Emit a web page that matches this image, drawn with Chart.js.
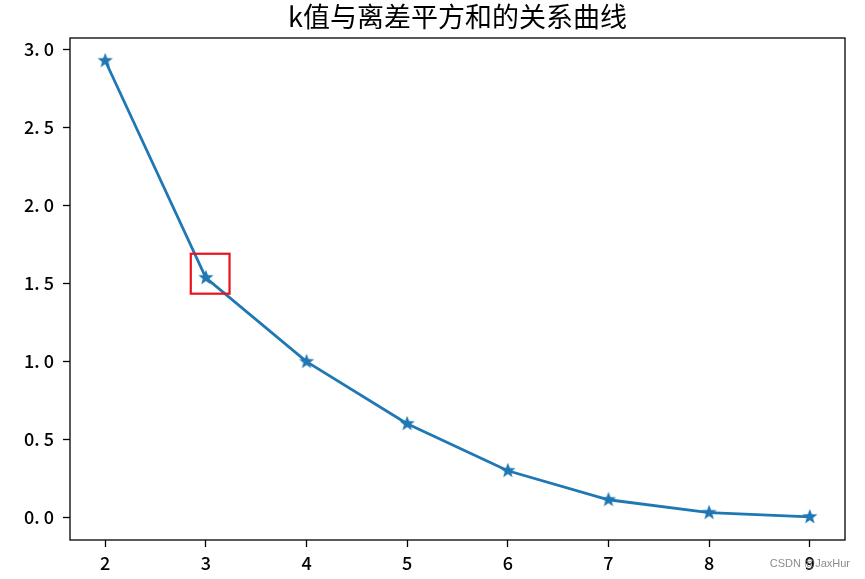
<!DOCTYPE html>
<html>
<head>
<meta charset="utf-8">
<script src="https://cdn.jsdelivr.net/npm/chart.js@4/dist/chart.umd.min.js"></script>
<style>
  body { margin: 0; background: #fff; }
  #wrap { width: 865px; height: 579px; position: relative; }
</style>
</head>
<body>
<div id="wrap"><canvas id="elbow"></canvas></div>
<script>
// data
const kValues = [2, 3, 4, 5, 6, 7, 8, 9];
const sse = [2.926, 1.535, 0.997, 0.599, 0.298, 0.112, 0.029, 0.002];
const xTicks = [2, 3, 4, 5, 6, 7, 8, 9];
const yTicks = [0, 0.5, 1.0, 1.5, 2.0, 2.5, 3.0];
const highlightK = 3;  // the point boxed in red
const chartTitle = 'k值与离差平方和的关系曲线';

const blue = '#1f77b4';
const tickFont = { family: "'Noto Sans CJK SC', 'DejaVu Sans', sans-serif", size: 18, weight: 500 };

// filled five point star, like matplotlib's '*' marker
function makeStar(r) {
    const c = document.createElement('canvas');
    c.width = c.height = r * 2 + 2;
    const g = c.getContext('2d');
    g.fillStyle = blue;
    g.beginPath();
    for (let i = 0; i < 10; i++) {
        const rad = i % 2 === 0 ? r : r * 0.42;
        const a = -Math.PI / 2 + i * Math.PI / 5;
        const px = r + 1 + rad * Math.cos(a);
        const py = r + 1 + rad * Math.sin(a);
        if (i === 0) g.moveTo(px, py); else g.lineTo(px, py);
    }
    g.closePath();
    g.fill();
    return c;
}
const star = makeStar(8);

// frame round the plot area, title centred over it, the red box, watermark
const extras = {
    id: 'extras',
    afterDatasetsDraw(chart) {
        const { ctx, chartArea: a, scales } = chart;
        ctx.save();
        ctx.strokeStyle = '#000';
        ctx.lineWidth = 1.3;
        ctx.strokeRect(a.left, a.top, a.right - a.left, a.bottom - a.top);

        ctx.fillStyle = '#000';
        ctx.font = "27px 'Noto Sans CJK SC', sans-serif";
        ctx.textAlign = 'center';
        ctx.textBaseline = 'middle';
        ctx.fillText(chartTitle, (a.left + a.right) / 2, 17);

        const i = kValues.indexOf(highlightK);
        const x1 = scales.x.getPixelForValue(kValues[i] - 0.15);
        const x2 = scales.x.getPixelForValue(kValues[i] + 0.235);
        const y1 = scales.y.getPixelForValue(sse[i] + 0.154);
        const y2 = scales.y.getPixelForValue(sse[i] - 0.102);
        ctx.strokeStyle = '#e8141c';
        ctx.lineWidth = 2.2;
        ctx.strokeRect(x1, y1, x2 - x1, y2 - y1);

        ctx.fillStyle = 'rgba(120,120,120,0.85)';
        ctx.font = "11px 'Liberation Sans', Arial, sans-serif";
        ctx.textAlign = 'right';
        ctx.fillText('CSDN @JaxHur', 850, 564);
        ctx.restore();
    }
};

new Chart(document.getElementById('elbow'), {
    type: 'line',
    data: {
        labels: kValues,
        datasets: [{
            data: kValues.map((k, i) => ({ x: k, y: sse[i] })),
            borderColor: blue,
            backgroundColor: blue,
            borderWidth: 2.8,
            pointStyle: star,
            tension: 0,
            fill: false
        }]
    },
    options: {
        responsive: true,
        maintainAspectRatio: false,
        animation: false,
        layout: { padding: { top: 38, right: 20, left: 0, bottom: 0 } },
        plugins: {
            legend: { display: false },
            tooltip: { enabled: false },
            title: { display: false }
        },
        scales: {
            x: {
                type: 'linear',
                min: 1.65,
                max: 9.35,
                afterBuildTicks: s => { s.ticks = xTicks.map(v => ({ value: v })); },
                afterFit: s => { s.height = 39; },
                grid: { drawOnChartArea: false, tickLength: 7, color: '#000', tickWidth: 1.3 },
                border: { display: false },
                ticks: { color: '#000', font: tickFont, padding: 5, maxRotation: 0 }
            },
            y: {
                min: -0.146,
                max: 3.072,
                afterBuildTicks: s => { s.ticks = yTicks.map(v => ({ value: v })); },
                afterFit: s => { s.width = 70; },
                grid: { drawOnChartArea: false, tickLength: 7, color: '#000', tickWidth: 1.3 },
                border: { display: false },
                ticks: {
                    color: '#000', font: tickFont, padding: 9,
                    callback: v => v.toFixed(1).replace('.', '. ')
                }
            }
        }
    },
    plugins: [extras]
});
</script>
</body>
</html>
